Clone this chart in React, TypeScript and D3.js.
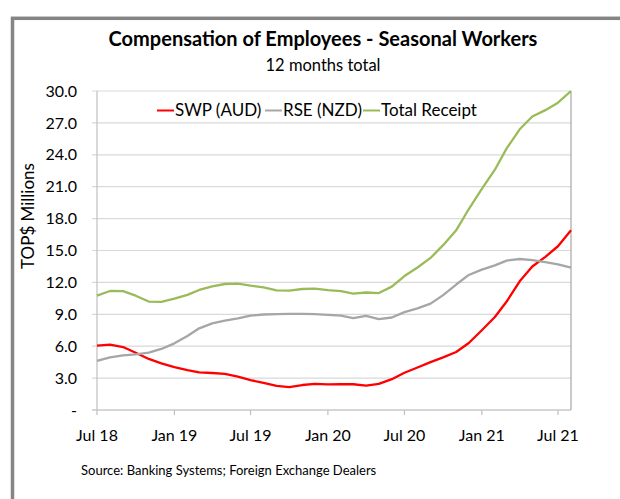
import React from "react";
import * as d3 from "d3";

// monthly, Jul 2018 .. Aug 2021
const months = d3.timeMonth.range(new Date(2018, 6, 1), new Date(2021, 8, 1));

const swp = [
  6.05, 6.14, 5.92, 5.39, 4.8, 4.39, 4.04, 3.76, 3.54, 3.48, 3.39, 3.13,
  2.82, 2.54, 2.26, 2.16, 2.35, 2.45, 2.41, 2.42, 2.42, 2.3, 2.45, 2.9,
  3.5, 4.0, 4.5, 4.95, 5.45, 6.3, 7.5, 8.75, 10.2, 12.1, 13.5, 14.4,
  15.4, 16.9
];

const rse = [
  4.61, 4.95, 5.14, 5.24, 5.39, 5.74, 6.27, 6.96, 7.68, 8.15, 8.4, 8.62,
  8.87, 8.98, 9.01, 9.04, 9.04, 9.01, 8.95, 8.87, 8.65, 8.85, 8.55, 8.7,
  9.2, 9.55, 10.0, 10.8, 11.8, 12.7, 13.2, 13.6, 14.05, 14.2, 14.1, 13.9,
  13.7, 13.4
];

const total = [
  10.75, 11.19, 11.18, 10.75, 10.2, 10.16, 10.47, 10.83, 11.29, 11.63, 11.85, 11.88,
  11.69, 11.54, 11.25, 11.22, 11.38, 11.41, 11.27, 11.17, 10.95, 11.05, 11.0, 11.6,
  12.6, 13.4, 14.3, 15.5, 16.9, 18.9, 20.8, 22.6, 24.6, 26.4, 27.6, 28.2,
  28.9, 30.0
];

const seriesNames = ["SWP (AUD)", "RSE (NZD)", "Total Receipt"];
const seriesColors = ["#ff0000", "#a6a6a6", "#9bbb59"];
const yTicks = [0, 3, 6, 9, 12, 15, 18, 21, 24, 27, 30];

const W = 620;
const H = 499;
const left = 97, right = 571, top = 91, bottom = 410;
const font = "Lato, 'Open Sans', sans-serif";

const x = d3.scaleTime().domain([months[0], months[months.length - 1]]).range([left, right]);
const y = d3.scaleLinear().domain([0, 30]).range([bottom, top]);
const xTicks = x.ticks(d3.timeMonth.every(6)!).filter(d => d <= new Date(2021, 6, 1));
const fmt = d3.timeFormat("%b %y");

const line = d3.line<number>()
  .x((_, i) => x(months[i]))
  .y(d => y(d));

const App = () => {
  const series = [swp, rse, total];
  const legendX = [157, 265, 363];
  return (
    <div style={{ position: "absolute", left: 0, top: 0 }}>
      <svg width={W} height={H} style={{ display: "block", background: "#fff" }} fontFamily={font}>
        <rect x={12.5} y={18.3} width={700} height={600} fill="none" stroke="#858585" strokeWidth={3.5} />

        <text x={323} y={46} textAnchor="middle" fontSize={20} fontWeight="bold" fill="#000">
          Compensation of Employees - Seasonal Workers
        </text>
        <text x={323} y={71} textAnchor="middle" fontSize={16.5} fill="#000">12 months total</text>

        {/* grid + y axis */}
        {yTicks.map(t => (
          <g key={t}>
            <line x1={left - 5} x2={right} y1={y(t)} y2={y(t)} stroke="#d9d9d9" strokeWidth={1.2} />
            <text x={77} y={y(t)} dy="0.35em" textAnchor="end" fontSize={16} fill="#000">
              {t === 0 ? "-" : t.toFixed(1)}
            </text>
          </g>
        ))}
        <line x1={left} x2={left} y1={top} y2={bottom} stroke="#bfbfbf" strokeWidth={1.2} />
        <line x1={right} x2={right} y1={top} y2={bottom} stroke="#a6a6a6" strokeWidth={1.2} />
        <line x1={left - 5} x2={right} y1={bottom} y2={bottom} stroke="#bfbfbf" strokeWidth={1.2} />

        {/* x axis */}
        {xTicks.map(d => (
          <g key={+d}>
            <line x1={x(d)} x2={x(d)} y1={bottom} y2={bottom + 5} stroke="#bfbfbf" strokeWidth={1.2} />
            <text x={x(d)} y={441} textAnchor="middle" fontSize={16} fill="#000">{fmt(d)}</text>
          </g>
        ))}

        <text transform={`translate(34,216) rotate(-90)`} textAnchor="middle" fontSize={17} fill="#000">
          TOP$ Millions
        </text>

        {series.map((s, k) => (
          <path key={k} d={line(s)!} fill="none" stroke={seriesColors[k]} strokeWidth={2.3} strokeLinejoin="round" />
        ))}

        {/* legend */}
        {seriesNames.map((n, k) => (
          <g key={n}>
            <line x1={legendX[k]} x2={legendX[k] + 17} y1={110.5} y2={110.5} stroke={seriesColors[k]} strokeWidth={2} />
            <text x={legendX[k] + 18} y={110.5} dy="0.35em" fontSize={17} fill="#000">{n}</text>
          </g>
        ))}

        <text x={81} y={475} fontSize={13} fill="#000">Source: Banking Systems; Foreign Exchange Dealers</text>
      </svg>
    </div>
  );
};

export default App;
